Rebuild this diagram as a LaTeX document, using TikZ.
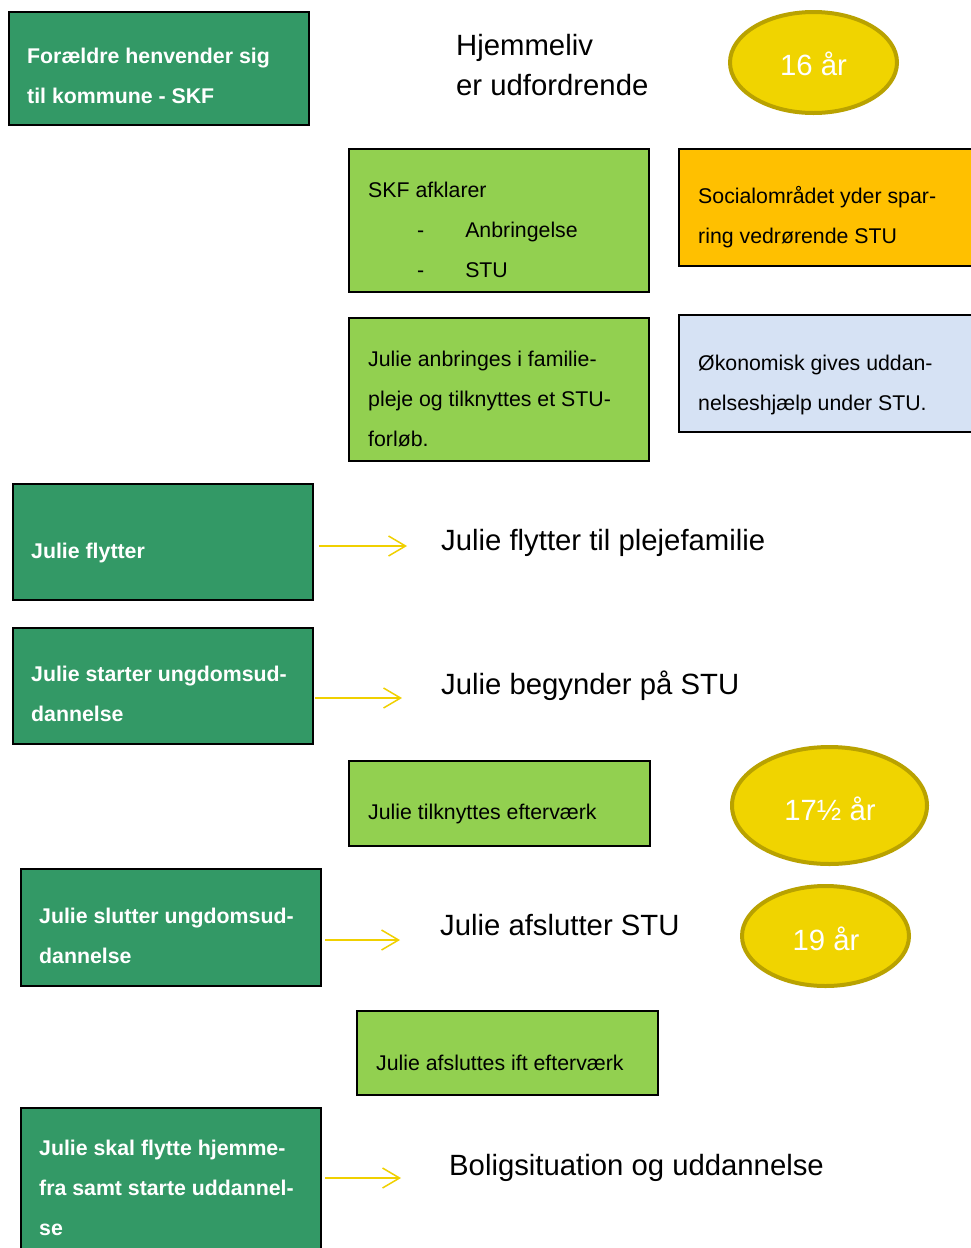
\documentclass[tikz,border=0pt]{standalone}
\usepackage{fontspec}
\setmainfont{Liberation Sans}
\usetikzlibrary{fit,shapes.geometric,arrows.meta}
\definecolor{dkgreen}{RGB}{51,153,102}
\definecolor{ltgreen}{RGB}{146,208,80}
\definecolor{orng}{RGB}{255,192,0}
\definecolor{ltblue}{RGB}{214,226,244}
\definecolor{yfill}{RGB}{240,212,0}
\definecolor{yedge}{RGB}{185,162,0}
\definecolor{arrowy}{RGB}{240,208,0}
\newcommand{\mlines}[1]{\vtop{\baselineskip=40pt\lineskiplimit=-100pt\halign{##\hfil\cr#1\crcr}}}
\tikzset{
  box/.style={draw=black, line width=2pt, inner sep=0pt},
  dkbox/.style={box, fill=dkgreen},
  ltbox/.style={box, fill=ltgreen},
  btxt/.style={anchor=base west, inner sep=0pt, text=white, font=\fontsize{21.3}{40}\selectfont\bfseries},
  stxt/.style={anchor=base west, inner sep=0pt, text=black, font=\fontsize{21.3}{40}\selectfont},
  ltxt/.style={anchor=base west, inner sep=0pt, text=black, font=\fontsize{29.3}{40}\selectfont},
  age/.style={ellipse, draw=yedge, fill=yfill, line width=4pt, inner sep=0pt},
  agetxt/.style={anchor=base, inner sep=0pt, text=white, font=\fontsize{29.3}{35}\selectfont},
  arr/.style={draw=arrowy, line width=1.5pt, -{Straight Barb[length=17pt,width=20pt,line width=1.5pt]}}
}
\begin{document}
\begin{tikzpicture}[x=1pt,y=-1pt]
\useasboundingbox (0,0) rectangle (971,1248);
\fill[white] (0,0) rectangle (971,1248);

% row 1
\node[dkbox, fit={(9,12) (309,125)}] (b1) {};
\node[btxt] (b1t) at (27,63) {\mlines{Forældre henvender sig\cr til kommune - SKF}};
\node[ltxt] (hj) at (456,55) {\mlines{Hjemmeliv\cr er udfordrende}};
\node[age, minimum width=167pt, minimum height=101pt] (e1) at (813.5,62.5) {};
\node[agetxt] (e1t) at (813.5,75) {16 år};

% SKF afklarer
\node[ltbox, fit={(349,149) (649,292)}] (b2) {};
\node[stxt] (b2t) at (368,197) {\mlines{SKF afklarer\cr\hskip49pt -\hskip41pt Anbringelse\cr\hskip49pt -\hskip41pt STU}};
\node[box, fill=orng, fit={(679,149) (985,266)}] (b3) {};
\node[stxt] (b3t) at (698,203) {\mlines{Socialområdet yder spar-\cr ring vedrørende STU}};

% Julie anbringes
\node[ltbox, fit={(349,318) (649,461)}] (b4) {};
\node[stxt] (b4t) at (368,366) {\mlines{Julie anbringes i familie-\cr pleje og tilknyttes et STU-\cr forløb.}};
\node[box, fill=ltblue, fit={(679,315) (985,432)}] (b5) {};
\node[stxt] (b5t) at (698,370) {\mlines{Økonomisk gives uddan-\cr nelseshjælp under STU.}};

% Julie flytter
\node[dkbox, fit={(13,484) (313,600)}] (b6) {};
\node[btxt] (b6t) at (31,558) {Julie flytter};
\coordinate (a1) at (407,546);
\draw[arr] ([xshift=5pt]b6.east |- a1) -- (a1);
\node[ltxt] (t1) at (441,550) {Julie flytter til plejefamilie};

% Julie starter
\node[dkbox, fit={(13,628) (313,744)}] (b7) {};
\node[btxt] (b7t) at (31,681) {\mlines{Julie starter ungdomsud-\cr dannelse}};
\coordinate (a2) at (402,698);
\draw[arr] ([xshift=1pt]b7.east |- a2) -- (a2);
\node[ltxt] (t2) at (441,694) {Julie begynder på STU};

% Julie tilknyttes efterværk
\node[ltbox, fit={(349,761) (650,846)}] (b8) {};
\node[stxt] (b8t) at (368,819) {Julie tilknyttes efterværk};
\node[age, minimum width=195pt, minimum height=117pt] (e2) at (829.5,805.5) {};
\node[agetxt] (e2t) at (830,820) {17½ år};

% Julie slutter
\node[dkbox, fit={(21,869) (321,986)}] (b9) {};
\node[btxt] (b9t) at (39,923) {\mlines{Julie slutter ungdomsud-\cr dannelse}};
\coordinate (a3) at (400,940);
\draw[arr] ([xshift=3pt]b9.east |- a3) -- (a3);
\node[ltxt] (t3) at (440,935) {Julie afslutter STU};
\node[age, minimum width=167pt, minimum height=100pt] (e3) at (825.5,936) {};
\node[agetxt] (e3t) at (826,950) {19 år};

% Julie afsluttes ift efterværk
\node[ltbox, fit={(357,1011) (658,1095)}] (b10) {};
\node[stxt] (b10t) at (376,1070) {Julie afsluttes ift efterværk};

% Julie skal flytte
\node[dkbox, fit={(21,1108) (321,1270)}] (b11) {};
\node[btxt] (b11t) at (39,1155) {\mlines{Julie skal flytte hjemme-\cr fra samt starte uddannel-\cr se}};
\coordinate (a4) at (401,1178);
\draw[arr] ([xshift=3pt]b11.east |- a4) -- (a4);
\node[ltxt] (t4) at (449,1175) {Boligsituation og uddannelse};
\end{tikzpicture}
\end{document}
